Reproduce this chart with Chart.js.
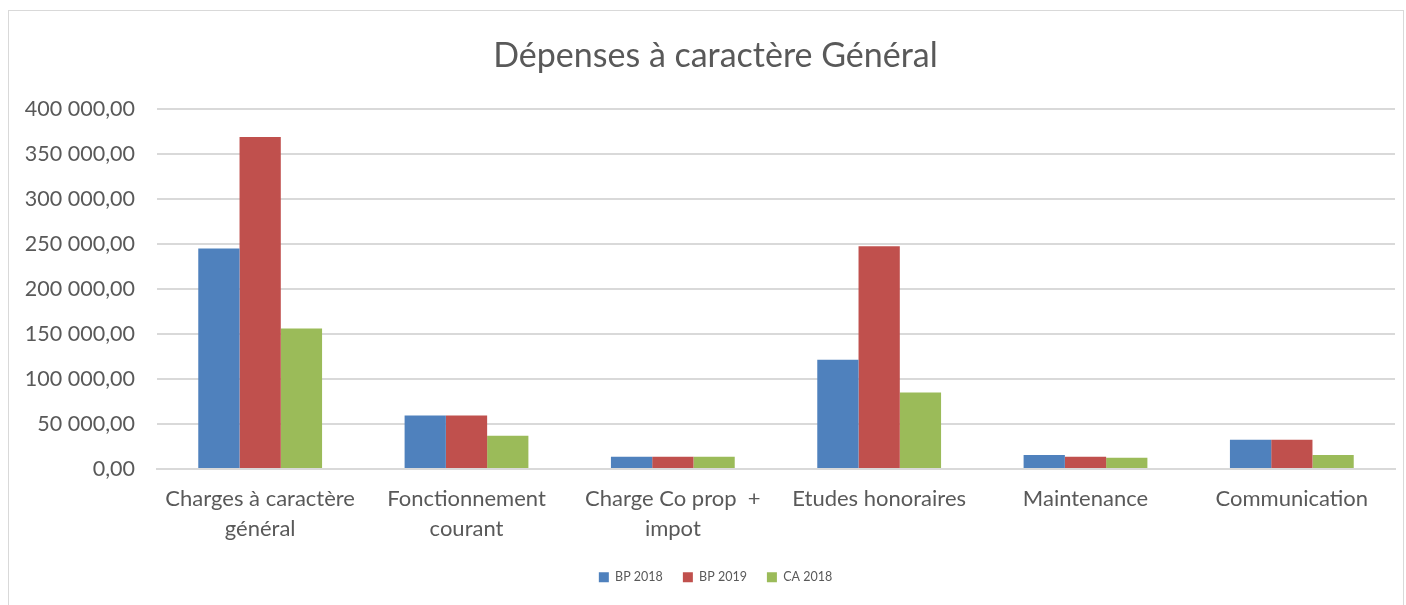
<!DOCTYPE html>
<html>
<head>
<meta charset="utf-8">
<script src="https://cdn.jsdelivr.net/npm/chart.js@4"></script>
<style>
  body { margin: 0; background: #fff; }
  #frame { position: absolute; left: 8px; top: 10px; width: 1394px; height: 610px; border: 1px solid #d9d9d9; pointer-events: none; }
  canvas { position: absolute; left: 0; top: 0; }
</style>
</head>
<body>
<canvas id="chart" width="1406" height="605"></canvas>
<div id="frame"></div>
<script>
// categories and series
const categories = [
  ['Charges à caractère', 'général'],
  ['Fonctionnement', 'courant'],
  ['Charge Co prop  +', 'impot'],
  'Etudes honoraires',
  'Maintenance',
  'Communication'
];
const bp2018 = [245000, 59500, 13500, 121500, 15500, 32500];
const bp2019 = [369000, 59500, 13500, 247500, 13500, 32500];
const ca2018 = [156000, 37000, 13500, 85000, 12500, 15500];

const yTicks = [0, 50000, 100000, 150000, 200000, 250000, 300000, 350000, 400000];

const fmt = (v) => {
  let s = Math.round(v).toString().replace(/\B(?=(\d{3})+(?!\d))/g, ' ');
  return s + ',00';
};

const textColor = '#595959';
const fontName = 'Lato';

// let the y labels use the space left of the padded area (title sits off-centre in the original)
const widenY = {
  id: 'widenY',
  afterLayout(chart) { chart.scales.y.left = 10; }
};

var ctx = document.getElementById('chart').getContext('2d');
var chart = new Chart(ctx, {
  type: 'bar',
  data: {
    labels: categories,
    datasets: [
      { label: 'BP 2018', data: bp2018, backgroundColor: '#4F81BD' },
      { label: 'BP 2019', data: bp2019, backgroundColor: '#C0504D' },
      { label: 'CA 2018', data: ca2018, backgroundColor: '#9BBB59' }
    ]
  },
  plugins: [widenY],
  options: {
    responsive: false,
    devicePixelRatio: 1,
    animation: false,
    layout: { padding: { left: 36, right: 11, top: 10, bottom: 11.5 } },
    datasets: {
      bar: { categoryPercentage: 0.6, barPercentage: 1.0 }
    },
    plugins: {
      title: {
        display: true,
        text: 'Dépenses à caractère Général',
        color: textColor,
        font: { family: fontName, size: 34, weight: 'normal' },
        padding: { top: 25.5, bottom: 32.7 }
      },
      legend: {
        position: 'bottom',
        labels: {
          color: textColor,
          font: { family: fontName, size: 12.5 },
          boxWidth: 10,
          boxHeight: 10,
          padding: 20
        }
      },
      tooltip: { enabled: false }
    },
    scales: {
      x: {
        grid: { display: false, drawTicks: false },
        border: { display: true, color: '#d9d9d9', width: 2 },
        ticks: {
          color: textColor,
          font: { family: fontName, size: 22, lineHeight: 1.36 },
          padding: 15,
          maxRotation: 0,
          autoSkip: false
        },
        afterFit: (s) => { s.height = 82; }
      },
      y: {
        min: 0,
        max: 400000,
        grid: { color: '#d9d9d9', lineWidth: 2, drawTicks: false },
        border: { display: false },
        afterBuildTicks: (s) => { s.ticks = yTicks.map(v => ({ value: v })); },
        ticks: {
          color: textColor,
          font: { family: fontName, size: 21.5 },
          padding: 22,
          callback: (v) => fmt(v)
        },
        afterFit: (s) => { s.width = 121; }
      }
    }
  }
});
</script>
</body>
</html>
